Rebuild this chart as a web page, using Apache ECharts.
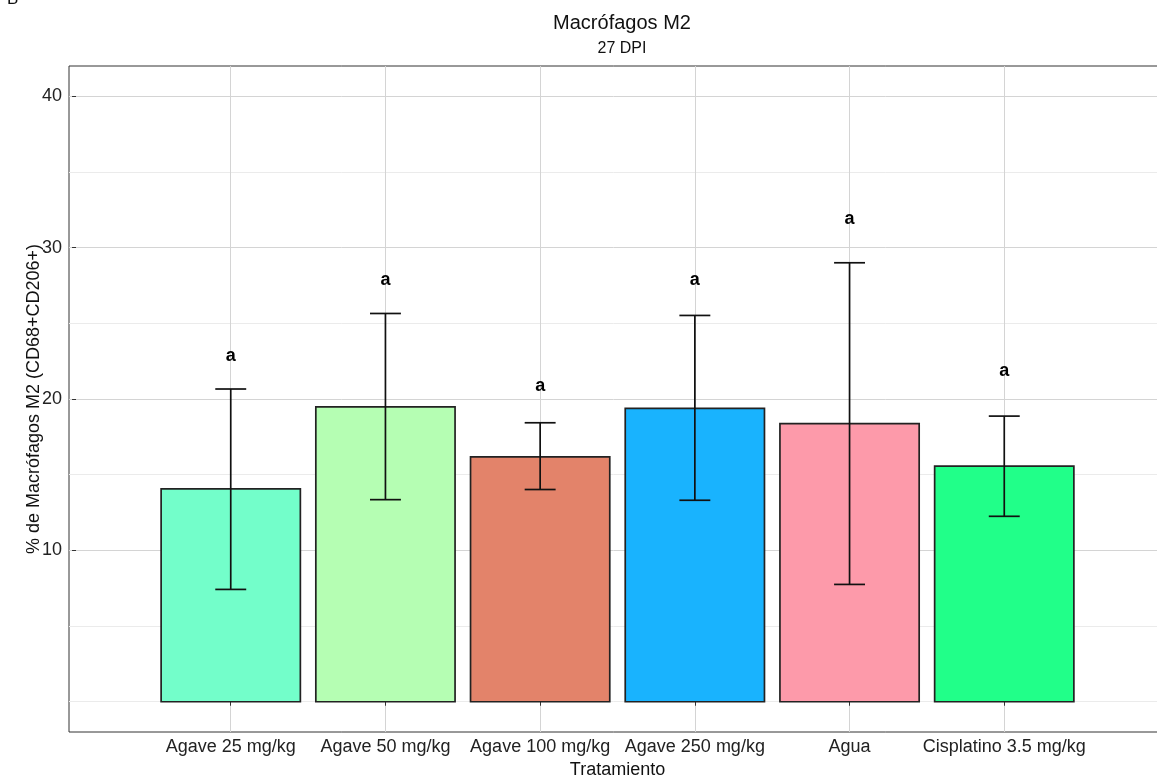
<!DOCTYPE html>
<html>
<head>
<meta charset="utf-8">
<script src="https://cdn.jsdelivr.net/npm/echarts@6/dist/echarts.min.js"></script>
<style>html,body{margin:0;padding:0;background:#fff;}#c{width:1157px;height:776px;}</style>
</head>
<body>
<div id="c"></div>
<script>
const categories = ['Agave 25 mg/kg', 'Agave 50 mg/kg', 'Agave 100 mg/kg', 'Agave 250 mg/kg', 'Agua', 'Cisplatino 3.5 mg/kg'];
const means = [14.06, 19.48, 16.18, 19.38, 18.37, 15.56];
const upper = [20.66, 25.65, 18.43, 25.52, 29.0, 18.87];
const lower = [7.42, 13.35, 14.02, 13.31, 7.75, 12.25];
const letters = ['a', 'a', 'a', 'a', 'a', 'a'];
const letterY = [22.85, 27.88, 20.88, 27.88, 31.9, 21.85];
const colors = ['#73FECA', '#B5FEB3', '#E3836A', '#19B3FE', '#FD9AAA', '#21FF89'];
const yTicks = [10, 20, 30, 40];
const yMinor = [0, 5, 15, 25, 35];
const xPos = categories.map((c, i) => i + 1);

const FONT = 'Liberation Sans, Arial, sans-serif';
const chart = echarts.init(document.getElementById('c'));

const rows = categories.map((c, i) => [xPos[i], means[i], lower[i], upper[i], letterY[i], i]);

chart.setOption({
  animation: false,
  backgroundColor: '#fff',
  title: {
    text: 'Macrófagos M2',
    subtext: '27 DPI',
    left: 617,
    top: 8,
    textAlign: 'center',
    itemGap: 8,
    textStyle: { fontFamily: FONT, fontSize: 20, fontWeight: 'normal', color: '#111' },
    subtextStyle: { fontFamily: FONT, fontSize: 16, color: '#111' }
  },
  graphic: [{
    type: 'text', left: 7, top: -9,
    style: { text: 'B', font: '17px ' + FONT, fill: '#111' }
  }],
  grid: {
    left: 69, top: 66, width: 1097, height: 666,
    outerBoundsMode: 'none',
    containLabel: false,
    show: true, borderColor: '#333', borderWidth: 1, backgroundColor: 'transparent'
  },
  xAxis: {
    type: 'value',
    min: 1 - 1.0455, max: 7.0455,
    name: 'Tratamiento',
    nameLocation: 'middle',
    nameGap: 24,
    nameTextStyle: { fontFamily: FONT, fontSize: 18, color: '#111' },
    axisLine: { show: false },
    axisTick: { show: true, length: 4, lineStyle: { color: '#333' }, customValues: xPos },
    axisLabel: {
      customValues: xPos,
      formatter: v => categories[Math.round(v) - 1] || '',
      fontFamily: FONT, fontSize: 18, color: '#222', margin: 6
    },
    splitLine: { show: true, lineStyle: { color: '#d4d4d4', width: 1 } }
  },
  yAxis: [{
    type: 'value',
    min: -2, max: 42,
    name: '% de Macrófagos M2 (CD68+CD206+)',
    nameLocation: 'middle',
    nameGap: 26,
    nameMoveOverlap: false,
    nameRotate: 90,
    nameTextStyle: { fontFamily: FONT, fontSize: 18, color: '#111' },
    axisLine: { show: false },
    axisTick: { show: true, length: 4, lineStyle: { color: '#333' }, customValues: yTicks },
    axisLabel: {
      customValues: yTicks,
      fontFamily: FONT, fontSize: 18, color: '#222', margin: 7
    },
    splitLine: { show: true, lineStyle: { color: '#d4d4d4', width: 1 } }
  }, {
    type: 'value',
    min: -2, max: 42,
    position: 'left',
    axisLine: { show: false },
    axisTick: { show: false, customValues: yMinor },
    axisLabel: { show: false, customValues: yMinor },
    splitLine: { show: true, lineStyle: { color: '#ebebeb', width: 1 } }
  }],
  series: [{
    type: 'custom',
    yAxisIndex: 0,
    data: rows,
    encode: { x: 0, y: [1, 2, 3, 4] },
    renderItem: function (params, api) {
      const x = api.value(0);
      const i = api.value(5);
      const w = api.size([0.9, 0])[0];
      const capW = api.size([0.2, 0])[0];
      const base = api.coord([x, 0]);
      const top = api.coord([x, api.value(1)]);
      const lo = api.coord([x, api.value(2)]);
      const hi = api.coord([x, api.value(3)]);
      const lt = api.coord([x, api.value(4)]);
      const lineStyle = { stroke: '#111', lineWidth: 1.7 };
      return {
        type: 'group',
        children: [
          { type: 'rect', shape: { x: base[0] - w / 2, y: top[1], width: w, height: base[1] - top[1] },
            style: { fill: colors[i], stroke: '#222', lineWidth: 1.7 } },
          { type: 'line', shape: { x1: hi[0], y1: hi[1], x2: lo[0], y2: lo[1] }, style: lineStyle },
          { type: 'line', shape: { x1: hi[0] - capW / 2, y1: hi[1], x2: hi[0] + capW / 2, y2: hi[1] }, style: lineStyle },
          { type: 'line', shape: { x1: lo[0] - capW / 2, y1: lo[1], x2: lo[0] + capW / 2, y2: lo[1] }, style: lineStyle },
          { type: 'text', x: lt[0], y: lt[1],
            style: { text: letters[i], font: 'bold 18px ' + FONT, fill: '#000', align: 'center', verticalAlign: 'middle' } }
        ]
      };
    }
  }]
});
</script>
</body>
</html>
